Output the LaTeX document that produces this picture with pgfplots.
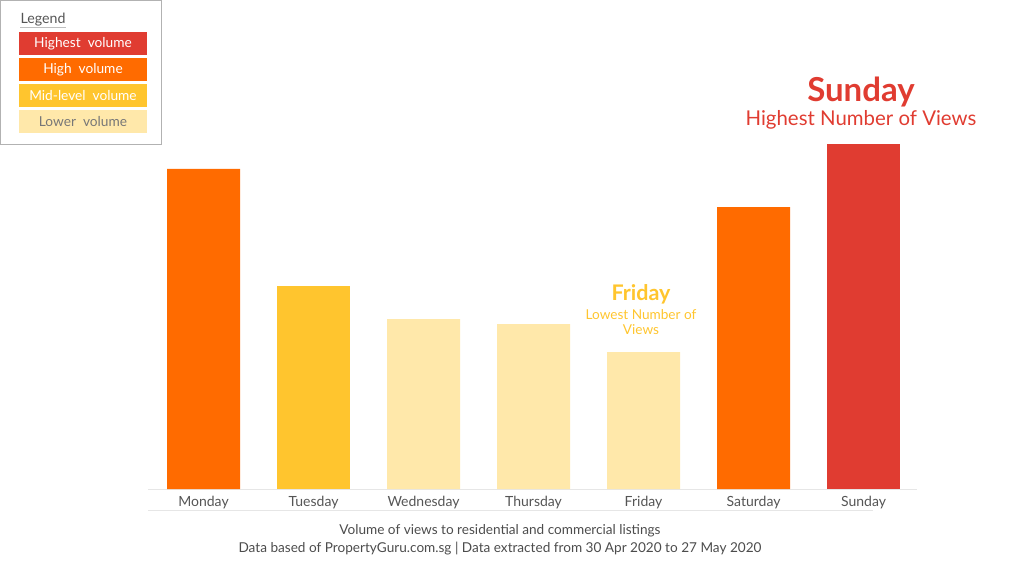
\documentclass[border=0pt]{standalone}
\usepackage{fontspec}
\setmainfont{Lato}
\usepackage{pgfplots}
\pgfplotsset{compat=1.18}
\definecolor{cred}{HTML}{E03C31}
\definecolor{corange}{HTML}{FF6B00}
\definecolor{cyellow}{HTML}{FFC52E}
\definecolor{clight}{HTML}{FFE8AA}
\definecolor{ctext}{HTML}{555555}
\definecolor{cline}{HTML}{E6E6E6}
\begin{document}
\begin{tikzpicture}[x=1pt,y=1pt]
\path[use as bounding box] (0,0) rectangle (1024,563);
\begin{axis}[
  at={(148pt,74pt)}, anchor=south west,
  scale only axis, width=769pt, height=345pt,
  xmin=-0.505, xmax=6.486, ymin=0, ymax=345,
  axis x line*=bottom, axis y line=none,
  x axis line style={draw=cline, line width=1pt},
  xtick={0,1,2,3,4,5,6},
  xticklabels={Monday,Tuesday,Wednesday,Thursday,Friday,Saturday,Sunday},
  major tick length=0pt,
  xticklabel style={font=\fontsize{14}{16}\selectfont, text=ctext, yshift=-4pt},
  ybar, bar width=73pt, bar shift=0pt,
  clip=false,
  every axis plot/.append style={draw=none},
]
\addplot[fill=corange] coordinates {(0,320) (5,282)};
\addplot[fill=cyellow] coordinates {(1,203)};
\addplot[fill=clight] coordinates {(2,170) (3,165) (4,137)};
\addplot[fill=cred] coordinates {(6,345)};
\end{axis}
% second light rule below tick labels
\draw[cline, line width=1pt] (148,53) -- (873,53);
% annotations
\node[text=cred, font=\fontsize{33}{36}\selectfont\bfseries] at (861,471) {Sunday};
\node[text=cred, font=\fontsize{20.4}{23}\selectfont] at (861,443) {Highest Number of Views};
\node[text=cyellow, font=\fontsize{21.5}{24}\selectfont\bfseries] at (641,268.5) {Friday};
\node[text=cyellow, font=\fontsize{13.6}{16}\selectfont, align=center] at (641,241) {Lowest Number of\\[-1.5pt]Views};
% caption
\node[text=ctext!90!black, font=\fontsize{13.6}{16}\selectfont] at (500,32) {Volume of views to residential and commercial listings};
\node[text=ctext!90!black, font=\fontsize{13.6}{16}\selectfont] at (500,14.5) {Data based of PropertyGuru.com.sg | Data extracted from 30 Apr 2020 to 27 May 2020};
% legend
\draw[gray!60, line width=0.8pt] (0.5,562.5) rectangle (161,419);
\node[text=ctext, font=\fontsize{14.2}{16}\selectfont] at (43,543.5) {Legend};
\draw[gray!50, line width=0.6pt] (20,536) -- (66,536);
\fill[cred] (19,531) rectangle (147,508);
\node[text=white, font=\fontsize{13.7}{16}\selectfont] at (83,519.5) {Highest\ \ volume};
\fill[corange] (19,505) rectangle (147,482);
\node[text=white, font=\fontsize{13.7}{16}\selectfont] at (83,493.5) {High\ \ volume};
\fill[cyellow] (19,479) rectangle (147,456);
\node[text=white, font=\fontsize{13.7}{16}\selectfont] at (83,467.5) {Mid-level\ \ volume};
\fill[clight] (19,453) rectangle (147,430);
\node[text=ctext!80, font=\fontsize{13.7}{16}\selectfont] at (83,441.5) {Lower\ \ volume};
\end{tikzpicture}
\end{document}
